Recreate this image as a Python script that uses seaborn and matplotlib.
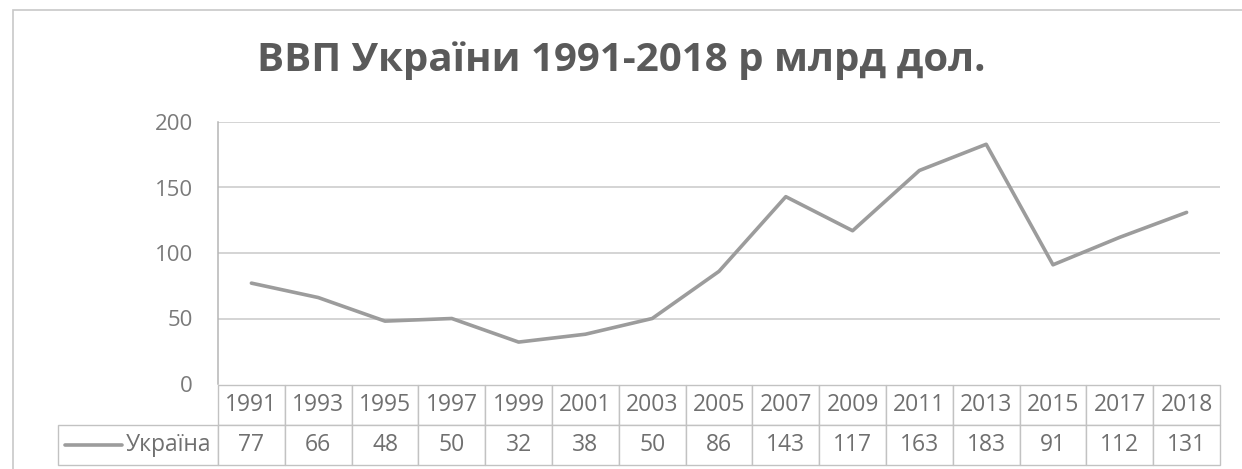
import numpy as np
import pandas as pd
import seaborn as sns
import matplotlib
matplotlib.use('Agg')
import matplotlib.pyplot as plt
from matplotlib.patches import Rectangle
from matplotlib.lines import Line2D

# data
years = ['1991', '1993', '1995', '1997', '1999', '2001', '2003', '2005',
         '2007', '2009', '2011', '2013', '2015', '2017', '2018']
gdp = [77, 66, 48, 50, 32, 38, 50, 86, 143, 117, 163, 183, 91, 112, 131]
series_name = 'Україна'
title = 'ВВП України 1991-2018 р млрд дол.'
y_ticks = [0, 50, 100, 150, 200]

W, H = 1242, 469

sns.set_style('white')
plt.rcParams['font.family'] = ['Open Sans', 'DejaVu Sans']

df = pd.DataFrame({'pos': np.arange(len(years)), 'gdp': gdp})

fig = plt.figure(figsize=(W / 100, H / 100), dpi=100)
fig.patch.set_facecolor('white')

# plot area in pixels: x 218..1220, y 122..384
ax_l, ax_r, ax_t, ax_b = 218, 1220, 122, 384
ax = fig.add_axes([ax_l / W, 1 - ax_b / H, (ax_r - ax_l) / W, (ax_b - ax_t) / H])

sns.lineplot(data=df, x='pos', y='gdp', ax=ax, color='#9c9c9c', linewidth=2.6)

ax.set_xlim(-0.5, len(years) - 0.5)
ax.set_ylim(0, 200)
ax.set_yticks(y_ticks)
ax.set_yticklabels([str(t) for t in y_ticks], fontsize=16, color='#7a7a7a')
ax.tick_params(axis='y', length=0, pad=18)
ax.set_xticks([])
ax.set_xlabel('')
ax.set_ylabel('')
for t in y_ticks[1:]:
    ax.axhline(t, color='#c9c9c9', lw=1.1, zorder=0)
for side in ['top', 'right', 'bottom']:
    ax.spines[side].set_visible(False)
ax.spines['left'].set_color('#b5b5b5')
ax.spines['left'].set_linewidth(1.1)

# data table under the plot
label_l = 58
axw = ax_r - ax_l
axh = ax_b - ax_t
tbl_top, tbl_mid, tbl_bot = 385, 424, 465
col_w = axw / len(years)
widths = [(ax_l - label_l)] + [col_w] * len(years)
tot = sum(widths)
cell_text = [[''] + years, [''] + [str(v) for v in gdp]]
table = ax.table(cellText=cell_text,
                 colWidths=[w / tot for w in widths],
                 cellLoc='center',
                 bbox=[(label_l - ax_l) / axw, -(tbl_bot - ax_b) / axh,
                       tot / axw, (tbl_bot - tbl_top) / axh])
table.auto_set_font_size(False)
for (r, c), cell in table.get_celld().items():
    cell.set_edgecolor('#c2c2c2')
    cell.set_linewidth(1.0)
    cell.get_text().set_fontsize(16.5)
    cell.get_text().set_color('#707070')
    if r == 0 and c == 0:
        cell.visible_edges = ''

# legend key inside the label cell
row_y = 1 - ((tbl_mid + tbl_bot) / 2) / H
fig.text(211 / W, row_y, series_name, ha='right', va='center',
         fontsize=16.5, color='#707070')
fig.add_artist(Line2D([65 / W, 122 / W], [row_y, row_y],
                      color='#9c9c9c', lw=2.6, transform=fig.transFigure))

# title
fig.text(621 / W, 1 - 60 / H, title, ha='center', va='center',
         fontsize=29, fontweight='bold', color='#5a5a5a')

# outer chart border
fig.add_artist(Rectangle((13 / W, -0.1), 1.2, 1.1 - 10 / H,
                         transform=fig.transFigure, fill=False,
                         edgecolor='#c8c8c8', lw=1.2))

fig.savefig('out.png', dpi=100)
